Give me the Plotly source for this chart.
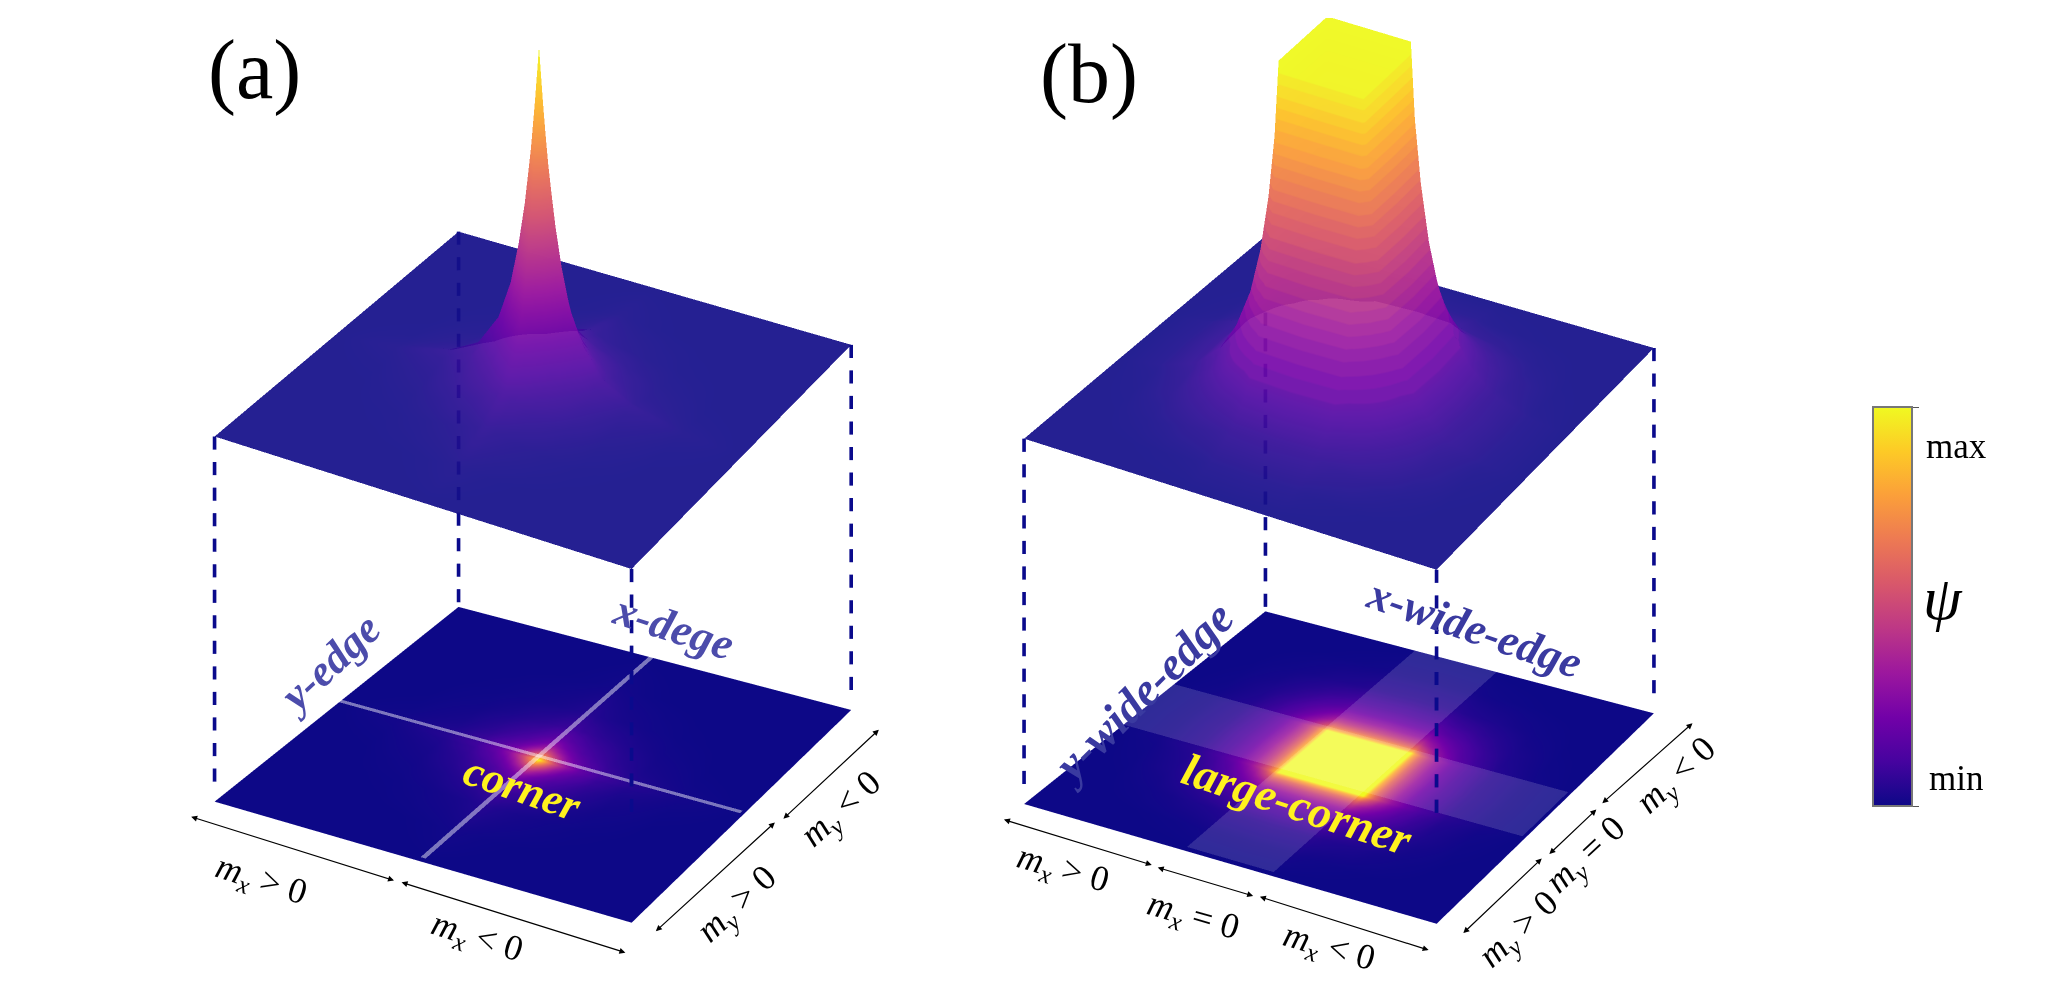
import numpy as np
import plotly.graph_objects as go
from plotly.colors import sample_colorscale, unlabel_rgb

W = 2048
H = 985

# values, one quadrant, the other three are mirrored
coords_a = [0, .02, .04, .07, .1, .14, .2, .3, .45, .7, 1]
psi_a = [
    [1.00, .84, .70, .54, .42, .30, .19, .10, .05, .015, 0],
    [.84, .74, .63, .49, .38, .27, .18, .095, .047, .014, 0],
    [.70, .63, .55, .43, .33, .24, .16, .085, .04, .012, 0],
    [.54, .49, .43, .35, .27, .20, .14, .08, .035, .01, 0],
    [.42, .38, .33, .27, .22, .17, .12, .07, .03, .008, 0],
    [.30, .27, .24, .20, .17, .13, .10, .06, .025, .006, 0],
    [.19, .18, .16, .14, .12, .10, .08, .05, .02, .004, 0],
    [.10, .095, .085, .08, .07, .06, .05, .03, .012, .002, 0],
    [.05, .047, .04, .035, .03, .025, .02, .012, .005, .001, 0],
    [.015, .014, .012, .01, .008, .006, .004, .002, .001, 0, 0],
    [0, 0, 0, 0, 0, 0, 0, 0, 0, 0, 0],
]

# panel (b), flat top out to .21
coords_b = [0, .21, .23, .26, .3, .35, .42, .5, .62, .8, 1]
psi_b = [
    [1, 1, .80, .62, .46, .33, .21, .13, .06, .02, 0],
    [1, 1, .78, .60, .44, .31, .20, .12, .055, .018, 0],
    [.80, .78, .66, .52, .39, .28, .18, .11, .05, .015, 0],
    [.62, .60, .52, .44, .33, .25, .16, .10, .045, .012, 0],
    [.46, .44, .39, .33, .27, .21, .14, .09, .04, .01, 0],
    [.33, .31, .28, .25, .21, .17, .12, .08, .035, .008, 0],
    [.21, .20, .18, .16, .14, .12, .09, .06, .03, .006, 0],
    [.13, .12, .11, .10, .09, .08, .06, .045, .02, .004, 0],
    [.06, .055, .05, .045, .04, .035, .03, .02, .01, .002, 0],
    [.02, .018, .015, .012, .01, .008, .006, .004, .002, 0, 0],
    [0, 0, 0, 0, 0, 0, 0, 0, 0, 0, 0],
]

plane_corners_x = [-1, -1, 1, 1]
plane_corners_y = [-1, 1, 1, -1]
guide_stops = [0, -0.02, 0, 0.3]
band_half = 0.21
line_half = 0.012

peak_height_a = 0.956
peak_height_b = 0.95

NAVY = "#0a0a8c"
EDGE_A = "#4c4cab"
EDGE_B = "#3a3aa0"
LABEL_YELLOW = "#fff21e"
SERIF = "Liberation Serif"
FLAT = dict(ambient=1, diffuse=0, specular=0, roughness=1, fresnel=0)

SHEET_ALPHA = 0.93
DASH = 0.036
GAP = 0.034


def mirrored(coords, psi):
    c = np.array(coords, dtype=float)
    full_c = np.concatenate([-c[:0:-1], c])
    q = np.array(psi, dtype=float)
    top = np.hstack([q[:, :0:-1], q])
    full = np.vstack([top[:0:-1], top])
    return full_c, full


def warp(x, y):
    # the reference sheets are slightly keystoned, an orthographic camera is not
    x = np.asarray(x, dtype=float)
    y = np.asarray(y, dtype=float)
    return x - 0.042 * x * y, y + 0.021 * x * y


def warp_map(x, y):
    # the lower map is also a bit flatter than the upper sheet
    x, y = warp(x, y)
    return x - 0.0216 * (x - y), y + 0.038 * (x - y)


def sheet_color(v):
    # washed out plasma, so the sheet looks the same as plasma at 90% on white
    r, g, b = unlabel_rgb(sample_colorscale("Plasma", [float(v)])[0])
    f = [(0.9 * c + 0.03 * 255) / SHEET_ALPHA for c in (r, g, b)]
    return "rgb(%d,%d,%d)" % (f[0], f[1], f[2])


def smooth_sheet(n=16):
    return [[float(v), sheet_color(v)] for v in np.linspace(0, 1, n)]


def banded_sheet(start, n):
    # smooth skirt, then visible slices up the side of the tower
    out = [[float(v), sheet_color(v)] for v in np.linspace(0, start, 5)]
    edges = np.linspace(start, 1, n + 1)
    for lo, hi in zip(edges[:-1], edges[1:]):
        col = sheet_color(hi)
        out.append([float(lo) + 1e-4, col])
        out.append([float(hi), col])
    return out


def dash_breaks(start, stop):
    zs = []
    z = start
    while z - DASH > stop:
        zs += [z, z - DASH, None]
        z -= DASH + GAP
    return zs


def add_panel(fig, scene, coords, psi, peak_height, with_bar, top_scale):
    c, z = mirrored(coords, psi)
    gx, gy = np.meshgrid(c, c)
    wx, wy = warp(gx, gy)
    mx, my = warp_map(gx, gy)
    # top sheet
    fig.add_trace(go.Surface(
        x=wx, y=wy, z=1 + peak_height * z, surfacecolor=z,
        colorscale=top_scale, cmin=0, cmax=1, opacity=SHEET_ALPHA,
        showscale=False, scene=scene, lighting=FLAT, hoverinfo="skip",
    ))
    # flat map underneath
    fig.add_trace(go.Surface(
        x=mx, y=my, z=np.zeros_like(z), surfacecolor=z,
        colorscale="Plasma", cmin=0, cmax=1,
        showscale=with_bar, scene=scene, lighting=FLAT, hoverinfo="skip",
        colorbar=dict(
            x=1880 / W, xanchor="left", y=1 - 608.5 / H, yanchor="middle",
            thickness=39, thicknessmode="pixels", len=399, lenmode="pixels",
            xpad=0, ypad=0,
            outlinecolor="#777777", outlinewidth=2,
            tickvals=[0, 1], ticktext=["", ""], ticks="outside", ticklen=6,
            tickcolor="#555555",
        ),
    ))
    # dashed guides between the two sheets, doubled to get the weight
    for cx, cy, stop in zip(plane_corners_x, plane_corners_y, guide_stops):
        zs = dash_breaks(1, stop)
        wcx, wcy = warp(cx, cy)
        for off in [-0.0035, 0.0035]:
            fig.add_trace(go.Scatter3d(
                x=[float(wcx) + off * 0.87] * len(zs),
                y=[float(wcy) + off * 0.5] * len(zs),
                z=zs, mode="lines",
                line=dict(color=NAVY, width=4),
                showlegend=False, hoverinfo="skip", scene=scene,
            ))


def add_strip(fig, scene, half, opacity):
    # pair of translucent strips through the centre of the map
    for xs, ys in [([-1, 1], [-half, half]), ([-half, half], [-1, 1])]:
        gx, gy = np.meshgrid(xs, ys)
        wx, wy = warp_map(gx, gy)
        fig.add_trace(go.Surface(
            x=wx, y=wy, z=[[0.012, 0.012], [0.012, 0.012]],
            surfacecolor=[[0, 0], [0, 0]], colorscale=[[0, "white"], [1, "white"]],
            opacity=opacity, showscale=False, scene=scene, hoverinfo="skip",
            lighting=FLAT,
        ))


def scene_layout(left, right, top, bottom, zrange, zaspect):
    hidden = dict(visible=False, showbackground=False, showgrid=False, zeroline=False)
    return dict(
        domain=dict(x=[left / W, right / W], y=[1 - bottom / H, 1 - top / H]),
        xaxis=dict(range=[-1.1, 1.1], **hidden),
        yaxis=dict(range=[-1.1, 1.1], **hidden),
        zaxis=dict(range=zrange, **hidden),
        aspectmode="manual",
        aspectratio=dict(x=1.1, y=1.1, z=zaspect),
        camera=dict(
            projection=dict(type="orthographic"),
            up=dict(x=0, y=0, z=1),
            center=dict(x=0, y=0, z=0),
            eye=dict(x=0.843, y=-1.472, z=1.06),
        ),
        bgcolor="rgba(0,0,0,0)",
    )


fig = go.Figure()
add_panel(fig, "scene", coords_a, psi_a, peak_height_a, True, smooth_sheet())
add_panel(fig, "scene2", coords_b, psi_b, peak_height_b, False, banded_sheet(0.16, 26))
add_strip(fig, "scene", line_half, 0.45)
add_strip(fig, "scene2", band_half, 0.14)


def px(x, y):
    return x / W, 1 - y / H


anns = []


def add_text(text, x, y, size, color="black", angle=0, bold=False, italic=False):
    if italic:
        text = "<i>" + text + "</i>"
    if bold:
        text = "<b>" + text + "</b>"
    ax_, ay_ = px(x, y)
    anns.append(dict(
        text=text, x=ax_, y=ay_, xref="paper", yref="paper", showarrow=False,
        textangle=angle, xanchor="center", yanchor="middle",
        font=dict(family=SERIF, size=size, color=color),
    ))


def add_arrow(x0, y0, x1, y1):
    ax_, ay_ = px(x1, y1)
    anns.append(dict(
        text="", x=ax_, y=ay_, xref="paper", yref="paper",
        ax=x0 - x1, ay=y0 - y1, showarrow=True, arrowside="end+start",
        arrowhead=2, arrowsize=1, arrowwidth=1.2, arrowcolor="black",
    ))


S = 1.31  # picture was read at 1563 px wide

add_text("(a)", 190 * S, 48 * S, 84)
add_text("(b)", 832 * S, 51 * S, 84)

add_text("y-edge", 247 * S, 509 * S, 44, EDGE_A, -43, True, True)
add_text("x-dege", 512 * S, 480 * S, 45, EDGE_A, 18, True, True)
add_text("corner", 396 * S, 606 * S, 44, LABEL_YELLOW, 19, True, True)
add_text("y-wide-edge", 873 * S, 531 * S, 47, EDGE_B, -45, True, True)
add_text("x-wide-edge", 1128 * S, 481 * S, 45, EDGE_B, 19, True, True)
add_text("large-corner", 992 * S, 618 * S, 46, LABEL_YELLOW, 18, True, True)

add_arrow(141 * S, 628 * S, 297 * S, 677 * S)
add_arrow(303 * S, 679 * S, 475 * S, 733 * S)
add_arrow(498 * S, 716 * S, 590 * S, 632 * S)
add_arrow(596 * S, 629 * S, 670 * S, 560 * S)
add_text("<i>m<sub>x</sub></i> > 0", 195 * S, 678 * S, 36, angle=18)
add_text("<i>m<sub>x</sub></i> < 0", 361 * S, 722 * S, 36, angle=18)
add_text("<i>m<sub>y</sub></i> > 0", 562 * S, 696 * S, 36, angle=-43)
add_text("<i>m<sub>y</sub></i> < 0", 642 * S, 622 * S, 36, angle=-42)

add_arrow(766 * S, 630 * S, 880 * S, 665 * S)
add_arrow(884 * S, 667 * S, 958 * S, 689 * S)
add_arrow(963 * S, 690 * S, 1093 * S, 731 * S)
add_arrow(1119 * S, 718 * S, 1180 * S, 660 * S)
add_arrow(1185 * S, 657 * S, 1222 * S, 622 * S)
add_arrow(1226 * S, 617 * S, 1296 * S, 555 * S)
add_text("<i>m<sub>x</sub></i> > 0", 812 * S, 669 * S, 36, angle=16)
add_text("<i>m<sub>x</sub></i> = 0", 912 * S, 706 * S, 36, angle=16)
add_text("<i>m<sub>x</sub></i> < 0", 1016 * S, 730 * S, 36, angle=16)
add_text("<i>m<sub>y</sub></i> > 0", 1163 * S, 716 * S, 36, angle=-43)
add_text("<i>m<sub>y</sub></i> = 0", 1215 * S, 658 * S, 36, angle=-43)
add_text("<i>m<sub>y</sub></i> < 0", 1284 * S, 596 * S, 36, angle=-43)

add_text("max", 1499 * S, 340 * S, 35)
add_text("min", 1499 * S, 598 * S, 35)
add_text("ψ", 1489 * S, 458 * S, 62, italic=True)

fig.update_layout(
    scene=scene_layout(0, 1070, 10, 958, [-0.484, 1.996], 2.287),
    scene2=scene_layout(687, 2007, 10, 948, [-0.463, 2.017], 2.313),
    annotations=anns,
    margin=dict(l=0, r=0, t=0, b=0),
    paper_bgcolor="white",
    showlegend=False,
)

fig.write_html("out.html")
